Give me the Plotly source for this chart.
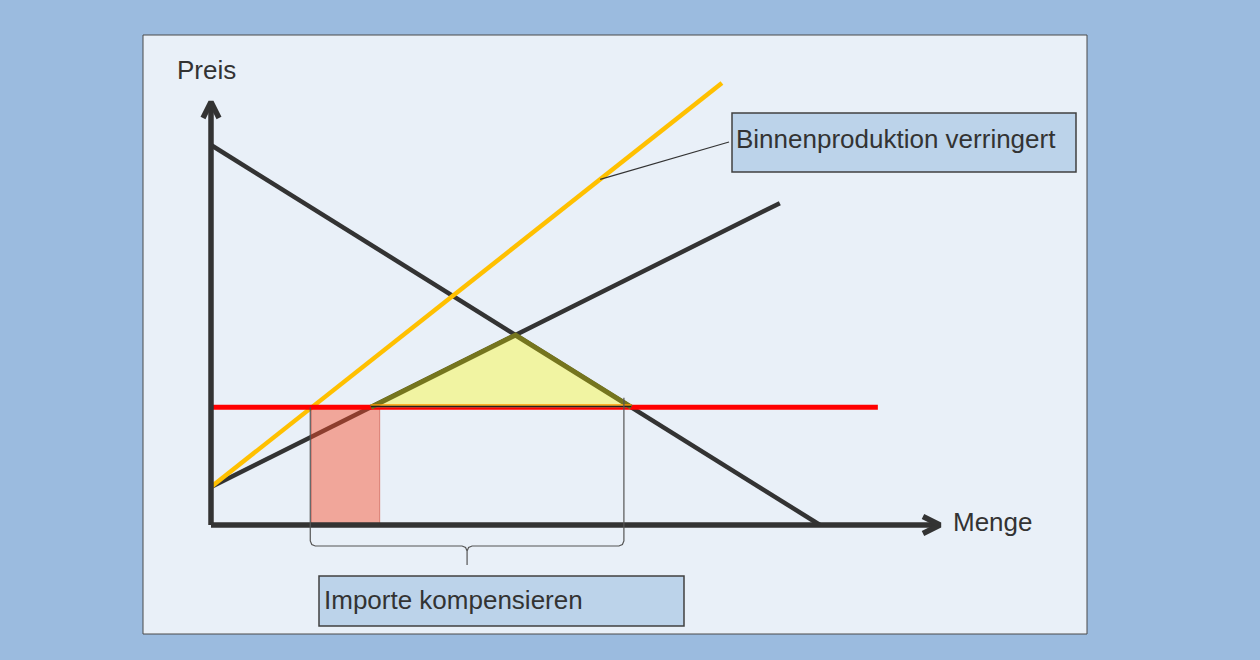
import plotly.graph_objects as go

W, H = 1260, 660

# ---- economic model (data units: quantity q, price p) ----
demand_q = [0, 100.0]
demand_p = [100.0, 0]
supply_q = [0, 93.4]
supply_p = [10.0, 84.7]
supply_new_q = [0, 83.9]
supply_new_p = [10.0, 116.3]
world_q = [0, 109.5]
world_p = [31.0, 31.0]
import_rect_q = [16.5, 27.7]
bracket_q = [16.3, 67.8]
axis_q_max = 119.7
axis_p_max = 111.3
leader_q = 63.9

axis_labels = ["Preis", "Menge"]
box_labels = ["Binnenproduktion verringert", "Importe kompensieren"]

# ---- scale (px per unit) and origin in pixels ----
XS, YS = 6.09, 3.8
OX, OY = 211, 525


def to_data(xp, yp):
    return (xp - OX) / XS, (OY - yp) / YS


def line_p(q, qs, ps):
    return ps[0] + (ps[1] - ps[0]) / (qs[1] - qs[0]) * (q - qs[0])


def q_at_p(p, qs, ps):
    return qs[0] + (p - ps[0]) * (qs[1] - qs[0]) / (ps[1] - ps[0])


def intersect(q1, p1, q2, p2):
    m1 = (p1[1] - p1[0]) / (q1[1] - q1[0])
    m2 = (p2[1] - p2[0]) / (q2[1] - q2[0])
    b1 = p1[0] - m1 * q1[0]
    b2 = p2[0] - m2 * q2[0]
    q = (b2 - b1) / (m1 - m2)
    return q, m1 * q + b1


pw = world_p[0]
q_eq, p_eq = intersect(demand_q, demand_p, supply_q, supply_p)
q_sw = q_at_p(pw, supply_q, supply_p)
q_dw = q_at_p(pw, demand_q, demand_p)

DARK = "#333333"
fig = go.Figure()


def add_line(xs, ys, color, width, fill=None, fillcolor=None):
    fig.add_trace(go.Scatter(x=xs, y=ys, mode="lines",
                             line=dict(color=color, width=width),
                             fill=fill, fillcolor=fillcolor,
                             hoverinfo="skip", showlegend=False))


# demand, supply, new supply
add_line(demand_q, demand_p, DARK, 4.5)
add_line(supply_q, supply_p, DARK, 4.5)
add_line(supply_new_q, supply_new_p, "#FFC000", 4.5)

# import rectangle (semi transparent)
rx0, rx1 = import_rect_q
add_line([rx0, rx1, rx1, rx0, rx0], [0, 0, pw, pw, 0], "rgba(200,60,40,0.5)", 1,
         fill="toself", fillcolor="rgba(250,75,40,0.45)")

# world price line
add_line(world_q, world_p, "#FF0000", 5)

# welfare triangle
add_line([q_sw, q_eq, q_dw, q_sw], [pw, p_eq, pw, pw], "rgba(0,0,0,0)", 0,
         fill="toself", fillcolor="#F1F4A2")
add_line([q_sw, q_eq, q_dw], [pw, p_eq, pw], "#75751E", 5)
add_line([q_sw, q_dw], [pw + 0.6, pw + 0.6], "#FF9900", 1.5)
add_line([q_sw, q_dw], [pw + 0.2, pw + 0.2], "#222222", 1.5)

# axes
add_line([0, 0], [0, axis_p_max], DARK, 5.5)
add_line([0, axis_q_max], [0, 0], DARK, 5.5)
ax_, ay_ = 8 / XS, 16 / YS
add_line([-ax_, 0, ax_], [axis_p_max - ay_, axis_p_max, axis_p_max - ay_], DARK, 5.5)
bx_, by_ = 17 / XS, 8.5 / YS
add_line([axis_q_max - bx_, axis_q_max, axis_q_max - bx_], [by_, 0, -by_], DARK, 5.5)

# bracket (curly brace) below x axis
bl, br = bracket_q
bc = (bl + br) / 2
yb = to_data(0, 546)[1]
ytip = to_data(0, 565)[1]
r_x, r_y = 5 / XS, 5 / YS
bx = [bl, bl, bl + r_x * 0.3, bl + r_x, bc - r_x, bc - r_x * 0.3, bc, bc,
      bc, bc + r_x * 0.3, bc + r_x, br - r_x, br - r_x * 0.3, br, br]
by = [pw, yb + r_y, yb + r_y * 0.3, yb, yb, yb - r_y * 0.3, yb - r_y, ytip,
      yb - r_y, yb - r_y * 0.3, yb, yb, yb + r_y * 0.3, yb + r_y, pw + 2.5]
add_line(bx, by, "#555555", 1.2)

# leader line from label box to new supply curve
lx1, ly1 = to_data(729, 142)
add_line([leader_q, lx1], [line_p(leader_q, supply_new_q, supply_new_p), ly1], "#333333", 1.2)

FONT = "Liberation Sans, Arial, sans-serif"


def rect_paper(x0, y0, x1, y1, fill, line, width, layer):
    return dict(type="rect", xref="paper", yref="paper",
                x0=x0 / W, x1=x1 / W, y0=1 - y1 / H, y1=1 - y0 / H,
                fillcolor=fill, line=dict(color=line, width=width), layer=layer)


shapes = [
    rect_paper(143, 35, 1087, 634, "#E9F0F8", "#4A4A4A", 1, "below"),
    rect_paper(732, 113, 1076, 172, "#BCD3EA", "#404040", 1.5, "above"),
    rect_paper(319, 576, 684, 626, "#BCD3EA", "#404040", 1.5, "above"),
]


def label(text, xp, yp, anchor="left"):
    return dict(text=text, xref="paper", yref="paper", x=xp / W, y=1 - yp / H,
                xanchor=anchor, yanchor="middle", showarrow=False,
                font=dict(family=FONT, size=26, color="#333333"))


annotations = [
    label(axis_labels[0], 175, 70),
    label(axis_labels[1], 951, 522),
    label(box_labels[0], 734, 138.5),
    label(box_labels[1], 322, 600),
]

x_min, _ = to_data(0, 0)
x_max, _ = to_data(W, 0)
_, y_max = to_data(0, 0)
_, y_min = to_data(0, H)

fig.update_layout(
    width=W, height=H,
    margin=dict(l=0, r=0, t=0, b=0),
    paper_bgcolor="#9BBBDF", plot_bgcolor="rgba(0,0,0,0)",
    xaxis=dict(range=[x_min, x_max], visible=False, fixedrange=True),
    yaxis=dict(range=[y_min, y_max], visible=False, fixedrange=True),
    shapes=shapes, annotations=annotations,
    showlegend=False,
)

fig.write_html("out.html", config={"displayModeBar": False},
               post_script="document.body.style.margin='0';document.body.style.padding='0';document.body.style.overflow='hidden';")
